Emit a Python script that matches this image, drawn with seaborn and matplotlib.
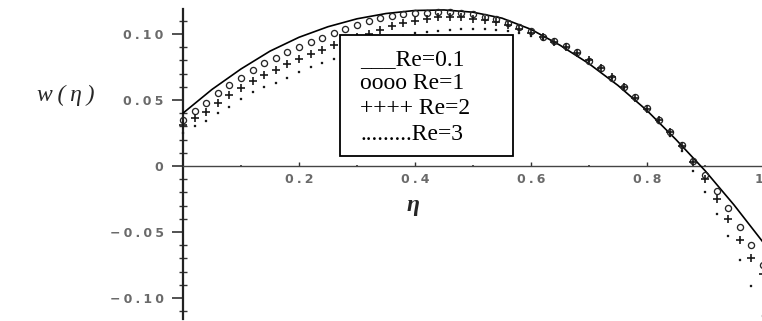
import matplotlib
matplotlib.use("Agg")
import matplotlib.pyplot as plt
import seaborn as sns
import pandas as pd
from matplotlib.patches import Rectangle

# ---- data -------------------------------------------------------------
eta_line = [0.00, 0.05, 0.10, 0.15, 0.20, 0.25, 0.30, 0.35, 0.40, 0.45,
            0.50, 0.55, 0.60, 0.65, 0.70, 0.75, 0.80, 0.85, 0.90, 0.95, 1.00]
w_re01 = [0.040, 0.058, 0.0735, 0.087, 0.0975, 0.1055, 0.1115, 0.1155, 0.1178, 0.1182,
          0.1165, 0.112, 0.1035, 0.0915, 0.0775, 0.061, 0.042, 0.020, -0.0035, -0.0295, -0.0577]

eta_pts = [0.00, 0.02, 0.04, 0.06, 0.08, 0.10, 0.12, 0.14, 0.16, 0.18,
           0.20, 0.22, 0.24, 0.26, 0.28, 0.30, 0.32, 0.34, 0.36, 0.38,
           0.40, 0.42, 0.44, 0.46, 0.48, 0.50, 0.52, 0.54, 0.56, 0.58,
           0.60, 0.62, 0.64, 0.66, 0.68, 0.70, 0.72, 0.74, 0.76, 0.78,
           0.80, 0.82, 0.84, 0.86, 0.88, 0.90, 0.92, 0.94, 0.96, 0.98, 1.00]
w_re1 = [0.035, 0.042, 0.048, 0.055, 0.061, 0.067, 0.0725, 0.078, 0.082, 0.086,
         0.090, 0.094, 0.097, 0.101, 0.104, 0.107, 0.1095, 0.112, 0.1135, 0.1148,
         0.1157, 0.1162, 0.1165, 0.1165, 0.1160, 0.1148, 0.113, 0.111, 0.108, 0.105,
         0.102, 0.098, 0.0945, 0.091, 0.086, 0.0795, 0.074, 0.067, 0.060, 0.052,
         0.044, 0.035, 0.026, 0.016, 0.004, -0.007, -0.019, -0.032, -0.046, -0.060, -0.075]
w_re2 = [0.031, 0.036, 0.041, 0.048, 0.054, 0.059, 0.064, 0.069, 0.073, 0.077,
         0.081, 0.085, 0.088, 0.092, 0.095, 0.098, 0.100, 0.103, 0.106, 0.108,
         0.110, 0.1115, 0.1125, 0.1130, 0.1128, 0.1115, 0.1105, 0.109, 0.1065, 0.1035,
         0.1005, 0.0975, 0.094, 0.090, 0.0855, 0.080, 0.0745, 0.0675, 0.0595, 0.0515,
         0.0435, 0.0345, 0.0255, 0.0155, 0.003, -0.010, -0.025, -0.040, -0.056, -0.070, -0.082]
w_re3 = [0.025, 0.030, 0.034, 0.040, 0.045, 0.051, 0.056, 0.060, 0.063, 0.067,
         0.071, 0.075, 0.078, 0.081, 0.085, 0.088, 0.091, 0.094, 0.096, 0.0985,
         0.1005, 0.1015, 0.102, 0.103, 0.1035, 0.104, 0.104, 0.103, 0.102, 0.1005,
         0.0985, 0.096, 0.093, 0.0895, 0.085, 0.0795, 0.074, 0.067, 0.059, 0.0505,
         0.042, 0.0325, 0.0225, 0.011, -0.004, -0.020, -0.036, -0.053, -0.071, -0.091, -0.114]

x_ticks = [0.2, 0.4, 0.6, 0.8, 1.0]
x_tick_labels = ["0.2", "0.4", "0.6", "0.8", "1"]
x_minor = [0.1, 0.3, 0.5, 0.7, 0.9]
y_ticks = [-0.10, -0.05, 0.0, 0.05, 0.10]
y_tick_labels = ["\u22120.10", "\u22120.05", "0", "0.05", "0.10"]
legend_lines = ["___Re=0.1", "oooo Re=1", "++++ Re=2", ".........Re=3"]

# ---- figure -----------------------------------------------------------
sns.set_style("white")
plt.rcParams["font.family"] = ["DejaVu Sans"]

W, H = 762, 321
fig = plt.figure(figsize=(W / 100, H / 100), dpi=100)
ax = fig.add_axes([183 / W, (H - 319.1) / H, 580 / W, (319.1 - 8.9) / H])

line_df = pd.DataFrame({"eta": eta_line, "w": w_re01})
pts_df = pd.DataFrame({"eta": eta_pts, "re1": w_re1, "re2": w_re2, "re3": w_re3})

sns.lineplot(data=line_df, x="eta", y="w", ax=ax, color="black", lw=1.2,
             clip_on=False, zorder=3)
sns.lineplot(data=pts_df, x="eta", y="re1", ax=ax, linestyle="none", marker="o",
             markersize=4.4, markerfacecolor="none", markeredgecolor="#262626",
             markeredgewidth=0.95, clip_on=False, zorder=3)
sns.lineplot(data=pts_df, x="eta", y="re2", ax=ax, linestyle="none", marker="+",
             markersize=5.2, color="#1a1a1a", markeredgecolor="#1a1a1a",
             markeredgewidth=1.2, clip_on=False, zorder=3)
sns.lineplot(data=pts_df, x="eta", y="re3", ax=ax, linestyle="none", marker="s",
             markersize=1.8, color="#1a1a1a", markerfacecolor="#1a1a1a",
             markeredgecolor="#1a1a1a", markeredgewidth=0.2,
             clip_on=False, zorder=3)

ax.set_xlim(0, 1.0)
ax.set_ylim(-0.116, 0.119)
ax.set_xlabel("")
ax.set_ylabel("")

# axes crossing at the origin
for side in ("top", "right"):
    ax.spines[side].set_visible(False)
ax.spines["left"].set_position(("data", 0))
ax.spines["bottom"].set_position(("data", 0))
ax.spines["left"].set_linewidth(1.6)
ax.spines["left"].set_color("#222222")
ax.spines["bottom"].set_linewidth(1.0)
ax.spines["bottom"].set_color("#444444")


def spaced(s):
    # letter-spaced tick labels
    return "\u2005".join(s)


ax.set_yticks(y_ticks, labels=[spaced(t) for t in y_tick_labels])
ax.set_yticks([v / 100 for v in range(-11, 12)], minor=True)
ax.set_xticks(x_ticks, labels=[spaced(t) for t in x_tick_labels])
ax.set_xticks(x_minor, minor=True)

ax.tick_params(axis="y", which="major", direction="out", length=8, width=1.2,
               color="#333333", labelsize=9, labelcolor="#6a6a6a", pad=6, left=True)
ax.tick_params(axis="y", which="minor", direction="inout", length=6, width=1.0,
               color="#333333", left=True)
ax.tick_params(axis="x", which="major", direction="in", length=3, width=1.0,
               color="#333333", labelsize=9, labelcolor="#6a6a6a", pad=5, bottom=True)
ax.tick_params(axis="x", which="minor", direction="inout", length=2, width=1.2,
               color="#333333", bottom=True)
for lab in ax.get_yticklabels() + ax.get_xticklabels():
    lab.set_fontweight("bold")
ax.get_xticklabels()[-1].set_horizontalalignment("right")

# axis titles
serif = ["Liberation Serif", "DejaVu Serif"]
fig.text(66 / W, 1 - 95 / H, "w\u2009(\u2009\u03b7\u2009)", family=serif, style="italic",
         fontsize=17, ha="center", va="center")
fig.text(413 / W, 1 - 205 / H, "\u03b7", family=serif, style="italic",
         fontweight="bold", fontsize=17, ha="center", va="center")

# legend box
fig.add_artist(Rectangle((340 / W, 1 - 156 / H), 173 / W, 121 / H,
                         transform=fig.transFigure, facecolor="white",
                         edgecolor="black", lw=1.3, zorder=5))
baselines = [65, 89, 114, 140]
for txt, yb in zip(legend_lines, baselines):
    fig.text(360 / W, 1 - yb / H, txt, family=serif, fontsize=17,
             ha="left", va="baseline", color="black", zorder=6)

fig.savefig("out.png", dpi=100)
